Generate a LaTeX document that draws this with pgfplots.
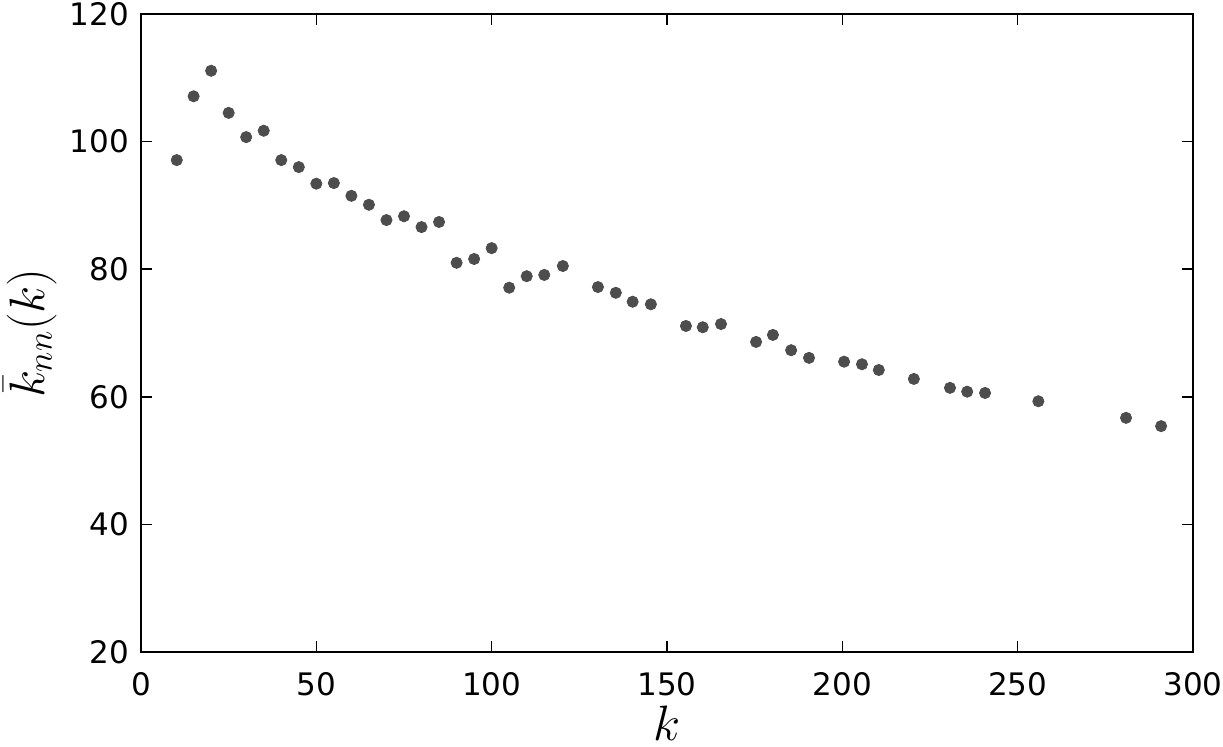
\documentclass[border=0pt]{standalone}
\usepackage{pgfplots}
\pgfplotsset{compat=1.18}
\usepackage{fontspec}
\setmainfont{DejaVu Sans}
\definecolor{markgray}{RGB}{77,77,77}

\begin{document}
\begin{tikzpicture}
\begin{axis}[
	scale only axis,
	width=526pt, height=319pt,
	xmin=0, xmax=300, ymin=20, ymax=120,
	xtick={0,50,...,300}, ytick={20,40,...,120},
	tick align=inside, major tick length=5.5pt,
	every tick/.style={black, line width=0.8pt},
	axis line style={line width=1pt},
	tick label style={font=\fontsize{15.5}{18}\selectfont},
	/pgf/number format/assume math mode=true,
	xticklabel style={yshift=-6.5pt},
	yticklabel style={xshift=-2.5pt},
	xlabel={\fontsize{24}{28}\selectfont$k$},
	ylabel={\fontsize{24}{28}\selectfont$\bar{k}_{nn}(k)$},
	xlabel style={at={(rel axis cs:0.5,0)}, anchor=base, inner sep=0pt, yshift=-44.5pt},
	ylabel style={at={(rel axis cs:0,0.5)}, anchor=center, inner sep=0pt, yshift=55.5pt},
	clip=false,
]
\addplot[only marks, mark=*, mark size=2.8pt, color=markgray] coordinates {
	(10.2,97.1) (15,107.1) (20,111.1) (25,104.5) (30,100.7) (35,101.7)
	(40,97.1) (45,96.0) (50,93.4) (55,93.5) (60,91.5) (65,90.1)
	(70,87.7) (75,88.3) (80,86.6) (85,87.4) (90,81.0) (95,81.6)
	(100,83.3) (105,77.1) (110,78.9) (115,79.1) (120.3,80.5)
	(130.3,77.2) (135.4,76.3) (140.2,74.9) (145.4,74.5)
	(155.4,71.1) (160.2,70.9) (165.4,71.4)
	(175.4,68.6) (180.2,69.7) (185.4,67.3) (190.5,66.1)
	(200.5,65.5) (205.6,65.1) (210.4,64.2) (220.4,62.8)
	(230.7,61.4) (235.6,60.8) (240.7,60.6) (255.9,59.3)
	(280.9,56.7) (290.9,55.4)
};
\coordinate (bl) at (rel axis cs:0,0);
\coordinate (tr) at (rel axis cs:1,1);
\end{axis}
\pgfresetboundingbox
\path[use as bounding box] ([shift={(-70.5pt,-47.5pt)}]bl) rectangle ([shift={(15pt,7pt)}]tr);
\end{tikzpicture}
\end{document}
